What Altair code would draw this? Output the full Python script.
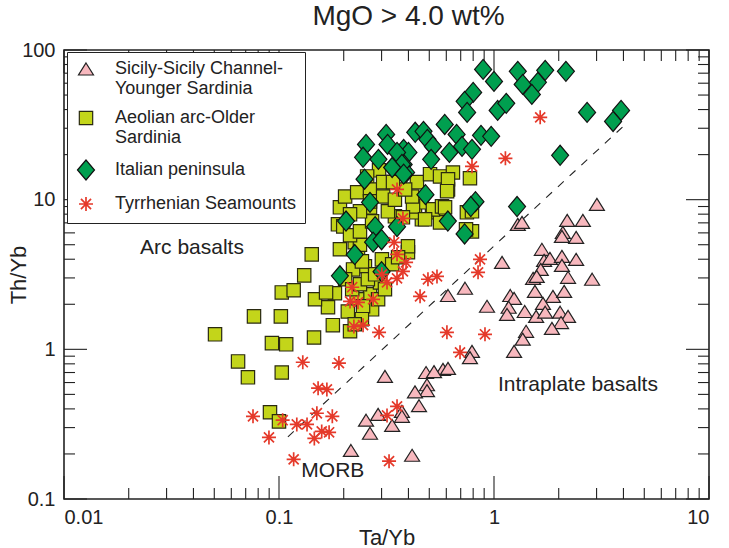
import altair as alt
import pandas as pd

# ---- data (Ta/Yb, Th/Yb) ----
tri_x = [3.01, 2.19, 2.59, 2.09, 2.07, 2.41, 1.29, 1.35, 1.67, 1.71, 1.82, 2.07, 2.07, 2.41, 1.65,
         1.52, 1.58, 2.21, 2.86, 1.09, 0.733, 0.611, 1.55, 1.19, 1.24, 1.88, 2.12, 1.69, 0.928, 1.17,
         1.39, 1.15, 1.57, 1.73, 2.03, 2.21, 2.05, 1.86, 1.41, 1.36, 1.24, 0.79, 0.773, 0.579, 0.611,
         0.483, 0.526, 0.311, 0.488, 0.488, 0.429, 0.448, 0.373, 0.373, 0.289, 0.254, 0.336, 0.265,
         0.216, 0.416]
tri_y = [9.3, 7.27, 7.27, 6.05, 5.69, 5.6, 6.84, 7.05, 4.66, 3.93, 4.05, 4.18, 3.64, 3.99, 3.42,
         2.98, 3.07, 3.03, 2.94, 3.81, 2.56, 2.29, 2.44, 2.29, 2.19, 2.26, 2.44, 2.03, 1.94, 1.91,
         1.79, 1.71, 1.66, 1.77, 1.77, 1.66, 1.51, 1.38, 1.32, 1.17, 0.97, 0.97, 0.88, 0.735, 0.746,
         0.70, 0.71, 0.66, 0.58, 0.53, 0.52, 0.42, 0.385, 0.357, 0.368, 0.336, 0.31, 0.275,
         0.211, 0.196]

sq_x = [0.142, 0.131, 0.103, 0.117, 0.0765, 0.102, 0.0504, 0.1455, 0.0927, 0.108, 0.0645, 0.0717,
        0.103, 0.178, 0.214, 0.169, 0.182, 0.147, 0.1655, 0.225, 0.233, 0.251, 0.221, 0.265, 0.231,
        0.271, 0.246, 0.209, 0.301, 0.295, 0.398, 0.462, 0.515, 0.579, 0.561, 0.429, 0.192, 0.188,
        0.265, 0.292, 0.257, 0.203, 0.231, 0.265, 0.265, 0.305, 0.199, 0.238, 0.438, 0.504, 0.561,
        0.462, 0.520, 0.573, 0.420, 0.346, 0.377, 0.416, 0.644, 0.773, 0.611, 0.478, 0.790, 0.748,
        0.398, 0.611, 0.605, 0.592, 0.790, 0.741, 0.0908, 0.100, 0.203, 0.219, 0.238, 0.259, 0.280,
        0.243, 0.225, 0.289, 0.311, 0.336, 0.358, 0.243, 0.192, 0.214, 0.238, 0.271, 0.321, 0.346,
        0.386, 0.305, 0.339, 0.238, 0.214]
sq_y = [4.31, 3.12, 2.40, 2.48, 1.66, 1.66, 1.26, 1.20, 1.10, 1.08, 0.83, 0.65,
        0.70, 1.45, 1.32, 1.91, 2.37, 2.16, 2.40, 5.19, 4.12, 3.59, 3.42, 2.33, 2.16,
        1.85, 1.94, 1.79, 3.99, 2.80, 4.45, 7.39, 8.23, 8.61, 7.05, 8.23, 8.89, 6.84,
        8.89, 15.7, 14.3, 10.5, 11.2, 11.7, 9.74, 10.5, 6.63, 5.0, 13.1, 14.8, 14.3,
        9.60, 8.61, 9.02, 9.02, 7.74, 7.62, 10.5, 15.2, 13.9, 11.7, 7.39, 6.14, 8.23,
        4.88, 13.7, 11.4, 8.89, 8.36, 6.33, 0.38, 0.33, 2.94, 2.52, 2.72, 2.94, 3.17,
        1.59, 1.47, 2.16, 2.52, 3.70, 4.12, 3.87, 4.66, 5.78, 6.14, 7.16, 8.36, 10.0,
        11.7, 13.1, 13.1, 8.36, 7.98]

dia_x = [0.89, 1.0, 1.29, 1.36, 1.60, 1.50, 1.73, 2.16, 0.80, 0.73, 0.75, 1.04, 1.14, 2.71, 3.90,
         3.58, 0.59, 0.43, 0.47, 0.49, 0.52, 0.67, 0.87, 0.97, 0.71, 0.62, 0.79, 0.38, 0.40, 0.51,
         0.38, 0.39, 2.03, 1.28, 0.82, 0.78, 0.61, 0.73, 0.48, 0.254, 0.315, 0.32, 0.246, 0.29,
         0.354, 0.373, 0.336, 0.38, 0.265, 0.205, 0.28, 0.354, 0.274, 0.30, 0.192, 0.30, 0.25, 0.225]
dia_y = [74.2, 61.7, 72.0, 58.9, 60.8, 50.5, 73.1, 72.0, 52.1, 45.4, 38.3, 39.5, 44.0, 38.3, 39.5,
         33.3, 31.8, 28.2, 28.6, 25.3, 22.7, 27.3, 26.9, 26.5, 22.7, 20.7, 21.7, 21.7, 20.7, 18.6,
         17.2, 15.2, 19.8, 9.0, 9.7, 9.0, 7.2, 5.9, 10.8, 23.4, 27.3, 23.4, 19.2, 18.6,
         20.7, 17.2, 16.4, 14.8, 9.6, 7.2, 6.6, 6.6, 5.2, 5.4, 3.1, 3.3, 13.7, 4.3]

star_x = [1.64, 1.13, 0.79, 0.354, 0.377, 0.343, 0.354, 0.390, 0.301, 0.318, 0.354, 0.377, 0.493,
          0.543, 0.453, 0.219, 0.214, 0.233, 0.274, 0.223, 0.246, 0.292, 0.129, 0.190, 0.604,
          0.152, 0.167, 0.0757, 0.104, 0.121, 0.135, 0.150, 0.177, 0.158, 0.146, 0.171, 0.0898,
          0.117, 0.325, 0.354, 0.318, 0.695, 0.861, 0.843, 0.908]
star_y = [35.5, 18.9, 16.7, 11.7, 7.50, 5.19, 4.31, 3.81, 3.17, 2.80, 2.98, 3.32, 2.94,
          3.07, 2.26, 2.60, 2.09, 2.06, 2.16, 1.42, 1.45, 1.30, 0.82, 0.81, 1.30,
          0.55, 0.54, 0.357, 0.336, 0.315, 0.315, 0.374, 0.357, 0.283, 0.254, 0.279, 0.258,
          0.184, 0.179, 0.416, 0.362, 0.955, 3.99, 3.27, 1.26]

series_names = ["Sicily-Sicily Channel-|Younger Sardinia", "Aeolian arc-Older|Sardinia",
                "Italian peninsula", "Tyrrhenian Seamounts"]

line_x = [0.11, 4.0]
line_y = [0.26, 31.0]

x_major = [0.01, 0.1, 1, 10]
y_major = [0.1, 1, 10, 100]

ann_text = ["Arc basalts", "MORB", "Intraplate basalts"]
ann_x = [0.0687, 0.178, 1.044]
ann_y = [4.75, 0.153, 0.575]
ann_align = ["right", "center", "left"]

# ---- build tables ----
rows = []
for nm, xs_, ys_ in [(series_names[1], sq_x, sq_y), (series_names[2], dia_x, dia_y),
                     (series_names[0], tri_x, tri_y), (series_names[3], star_x, star_y)]:
    for a, b in zip(xs_, ys_):
        rows.append({"series": nm, "ta": a, "th": b})
df = pd.DataFrame(rows)
df["ord"] = range(len(df))

xmin = [m * d for d in [0.01, 0.1, 1] for m in range(2, 10)]
ymin = [m * d for d in [0.1, 1, 10] for m in range(2, 10)]
xt_major = pd.DataFrame({"v": x_major})
xt_minor = pd.DataFrame({"v": xmin})
yt_major = pd.DataFrame({"v": y_major})
yt_minor = pd.DataFrame({"v": ymin})

W, H = 645, 449
FONT = "Liberation Sans"
INK = "#222222"

xs = alt.Scale(type="log", domain=[0.01, 10], nice=False)
ys = alt.Scale(type="log", domain=[0.1, 100], nice=False)

tri_path = "M0,-0.8L1,0.8L-1,0.8Z"
dia_path = "M-0.85,0L0,-1L0.85,0L0,1Z"
star_path = "M0,-1L0,1M-1,0L1,0M-0.72,-0.72L0.72,0.72M-0.72,0.72L0.72,-0.72"

dom = series_names
points = alt.Chart(df).mark_point(filled=True, opacity=1).encode(
    x=alt.X("ta:Q", scale=xs,
            axis=alt.Axis(values=x_major, ticks=False, domain=False, grid=False,
                          labelExpr="datum.value < 0.05 ? '0.01' : datum.value < 0.5 ? '0.1' : datum.value < 5 ? '1' : '10'",
                          labelFontSize=20, labelFont=FONT, labelColor=INK, labelPadding=8,
                          title="Ta/Yb", titleFontSize=22, titleFont=FONT, titleFontWeight="normal",
                          titleColor=INK, titleY=38, titleBaseline="middle")),
    y=alt.Y("th:Q", scale=ys,
            axis=alt.Axis(values=y_major, ticks=False, domain=False, grid=False,
                          labelExpr="datum.value < 0.5 ? '0.1' : datum.value < 5 ? '1' : datum.value < 50 ? '10' : '100'",
                          labelFontSize=20, labelFont=FONT, labelColor=INK, labelPadding=9,
                          title="Th/Yb", titleFontSize=22, titleFont=FONT, titleFontWeight="normal",
                          titleColor=INK, titleX=-46, titleY=H / 2, titleBaseline="middle")),
    shape=alt.Shape("series:N", scale=alt.Scale(domain=dom, range=[tri_path, "square", dia_path, star_path]),
                    title=None,
                    legend=alt.Legend(orient="none", legendX=3, legendY=2, labelExpr="split(datum.label, '|')",
                                      labelFontSize=18, labelFont=FONT, labelColor=INK, labelLimit=400,
                                      strokeColor=INK, fillColor="white", padding=8, rowPadding=10,
                                      labelOffset=18, symbolStrokeWidth=1.2)),
    fill=alt.Fill("series:N", scale=alt.Scale(domain=dom, range=["#f8b8be", "#c3d51a", "#009f4f", "#e5392a"]), title=None),
    stroke=alt.Stroke("series:N", scale=alt.Scale(domain=dom, range=["#222222", "#2a2a10", "#111111", "#e5392a"]), title=None),
    size=alt.Size("series:N", scale=alt.Scale(type="ordinal", domain=dom, range=[225, 178, 400, 196]), title=None),
    strokeWidth=alt.StrokeWidth("series:N", scale=alt.Scale(type="ordinal", domain=dom, range=[1.2, 1.2, 1.2, 1.7]), title=None),
    order=alt.Order("ord:Q"),
)

dash = alt.Chart(pd.DataFrame({"ta": line_x, "th": line_y})).mark_line(
    color=INK, strokeWidth=1.1, strokeDash=[8, 8]).encode(
    x=alt.X("ta:Q", scale=xs), y=alt.Y("th:Q", scale=ys))

ann_layers = []
for t, a, b, al in zip(ann_text, ann_x, ann_y, ann_align):
    ann_layers.append(alt.Chart(pd.DataFrame({"ta": [a], "th": [b], "t": [t]})).mark_text(
        font=FONT, fontSize=21, color=INK, baseline="middle", align=al).encode(
        x=alt.X("ta:Q", scale=xs), y=alt.Y("th:Q", scale=ys), text="t:N"))

def xticks(df_, L):
    b = alt.Chart(df_).mark_rule(color=INK, strokeWidth=1.1).encode(
        x=alt.X("v:Q", scale=xs), y=alt.value(H), y2=alt.value(H - L))
    t = alt.Chart(df_).mark_rule(color=INK, strokeWidth=1.1).encode(
        x=alt.X("v:Q", scale=xs), y=alt.value(0), y2=alt.value(L))
    return [b, t]

def yticks(df_, L):
    l = alt.Chart(df_).mark_rule(color=INK, strokeWidth=1.1).encode(
        y=alt.Y("v:Q", scale=ys), x=alt.value(0), x2=alt.value(L))
    r = alt.Chart(df_).mark_rule(color=INK, strokeWidth=1.1).encode(
        y=alt.Y("v:Q", scale=ys), x=alt.value(W), x2=alt.value(W - L))
    return [l, r]

layers = (xticks(xt_major, 23) + xticks(xt_minor, 11) + yticks(yt_major, 23) + yticks(yt_minor, 11)
          + [dash, points] + ann_layers)

chart = alt.layer(*layers).properties(
    width=W, height=H,
    title=alt.TitleParams("MgO > 4.0 wt%", font=FONT, fontSize=28, fontWeight="normal",
                          color=INK, anchor="middle", offset=9, dx=22),
    padding={"left": 64, "top": 50, "right": 20, "bottom": 49},
    autosize=alt.AutoSizeParams(type="none"),
).configure_view(stroke=INK, strokeWidth=1.6)

chart.save("out.html", embed_options={"renderer": "svg", "actions": False})
